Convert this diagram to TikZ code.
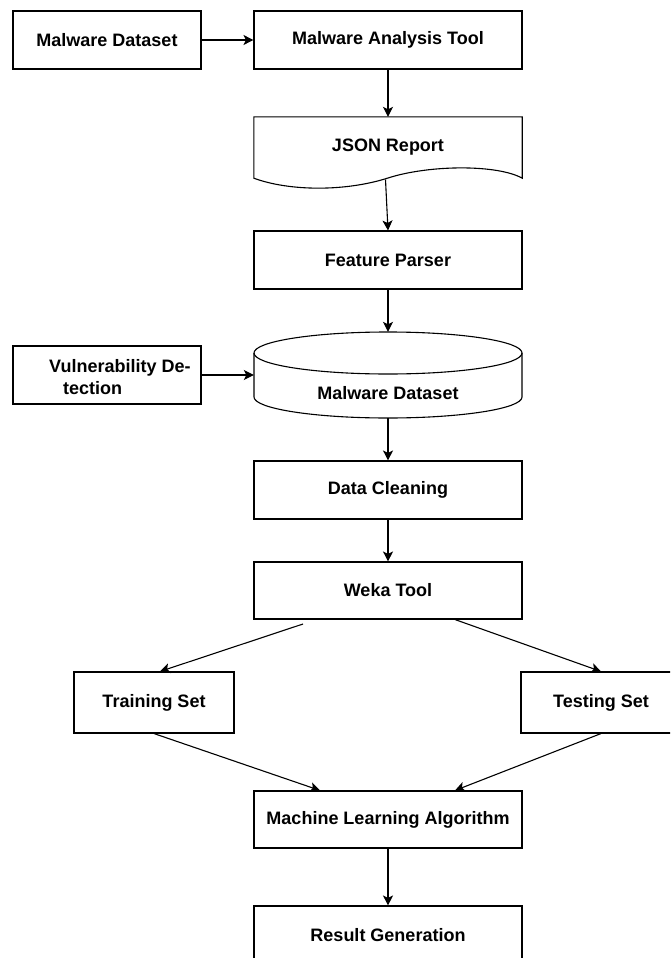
\documentclass[tikz,border=0pt]{standalone}
\usepackage{fontspec}
\setmainfont{Liberation Sans}
\usetikzlibrary{arrows.meta}
\tikzset{
  box/.style={draw, line width=1.1pt, rectangle, inner sep=0pt, minimum height=58pt},
  mainbox/.style={box, minimum width=268pt},
  sidebox/.style={box, minimum width=188pt},
  setbox/.style={box, minimum width=160pt, minimum height=61pt},
  ghost/.style={rectangle, inner sep=0pt, draw=none},
  txt/.style={font=\bfseries\fontsize{18}{22}\selectfont, inner sep=0pt},
  conn/.style={line width=1.1pt, -{Stealth[length=10pt,width=10pt,inset=2.5pt]}},
  shapeline/.style={line width=1.1pt}
}
\begin{document}
\begin{tikzpicture}[x=1pt,y=-1pt]
\useasboundingbox (0,0) rectangle (670,958);
\clip (0,0) rectangle (670,958);
\fill[white] (0,0) rectangle (670,958);

% top row
\node[sidebox, txt] (mdata) at (107,40) {Malware Dataset};
\node[mainbox, txt] (mat) at (388,40) {Malware Analysis Tool};

% JSON report (document shape)
\node[ghost, minimum width=268pt, minimum height=61pt] (json) at (388,147.5) {};
\draw[shapeline] (json.south west) -- (json.north west) -- (json.north east) -- (json.south east)
  .. controls (498,164.5) and (430,164.5) .. (388,178)
  .. controls (346,191.5) and (290,191.5) .. (json.south west) -- cycle;
\node[txt] (jsontext) at (388,147) {JSON Report};
\coordinate (jsonout) at (385.5,179.5);

\node[mainbox, txt] (fp) at (388,260) {Feature Parser};

% cylinder
\node[ghost, minimum width=268pt, minimum height=86pt] (ds) at (388,375) {};
\draw[shapeline] (388,353) ellipse[x radius=134, y radius=21];
\draw[shapeline] (254,353) -- (254,397)
  .. controls (254,408.6) and (314,418) .. (388,418)
  .. controls (462,418) and (522,408.6) .. (522,397) -- (522,353);
\node[txt] (dstext) at (388,393) {Malware Dataset};

% vulnerability detection
\node[sidebox] (vuln) at (107,375) {};
\node[txt, anchor=base west] (vuln1) at (49,372) {Vulnerability De-};
\node[txt, anchor=base west] (vuln2) at (63,394) {tection};

\node[mainbox, txt] (dc) at (388,490) {Data Cleaning};
\node[mainbox, txt, minimum height=57pt] (weka) at (388,590.5) {Weka Tool};

\node[setbox, txt] (train) at (154,702.5) {Training Set};
\node[setbox, txt] (test) at (601,702.5) {Testing Set};

\node[mainbox, txt, minimum height=57pt] (ml) at (388,819.5) {Machine Learning Algorithm};
\node[mainbox, txt] (rg) at (388,935) {Result Generation};

\coordinate (wekaL) at (303,624);

% connectors
\draw[conn] (mdata.east) -- (mat.west);
\draw[conn] (mat.south) -- (json.north);
\draw[conn] (jsonout) -- (fp.north);
\draw[conn] (fp.south) -- (ds.north);
\draw[conn] (vuln.east) -- (ds.west);
\draw[conn] (ds.south) -- (dc.north);
\draw[conn] (dc.south) -- (weka.north);
\draw[conn] (wekaL) -- ([xshift=6pt]train.north);
\draw[conn] ([xshift=67pt]weka.south) -- (test.north);
\draw[conn] (train.south) -- ([xshift=-68pt]ml.north);
\draw[conn] (test.south) -- ([xshift=67pt]ml.north);
\draw[conn] (ml.south) -- (rg.north);
\end{tikzpicture}
\end{document}
